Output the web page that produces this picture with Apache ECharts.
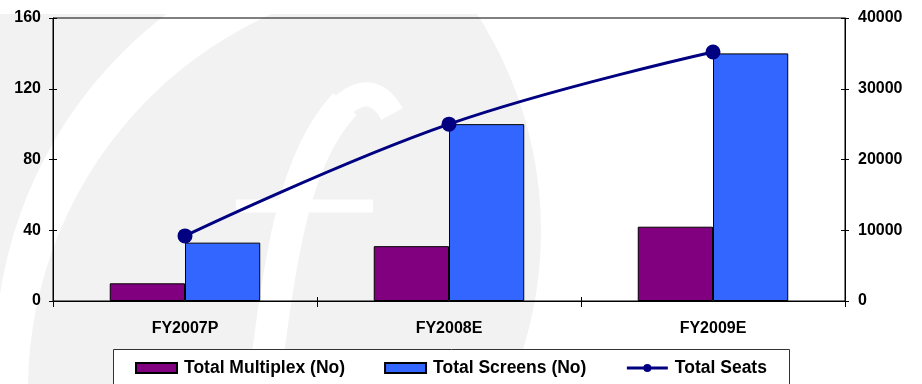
<!DOCTYPE html>
<html>
<head>
<meta charset="utf-8">
<script src="https://cdn.jsdelivr.net/npm/echarts@6/dist/echarts.min.js"></script>
<style>
  html, body { margin: 0; padding: 0; background: #ffffff; }
  #chart { width: 922px; height: 384px; }
</style>
</head>
<body>
<div id="chart"></div>
<script>
// Cinema capacity outlook by fiscal year
const categories = ['FY2007P', 'FY2008E', 'FY2009E'];
const multiplexCount = [10, 31, 42];      // Total Multiplex (No)
const screenCount = [33, 100, 140];       // Total Screens (No)
const seatCount = [9200, 25000, 35200];   // Total Seats
const leftAxisRange = { min: 0, max: 160, step: 40 };
const rightAxisRange = { min: 0, max: 40000, step: 10000 };

const FONT = '"Liberation Sans", Arial, sans-serif';
const labelStyle = { fontSize: 16, fontWeight: 'bold', color: '#000', fontFamily: FONT };

// faint circular logo in the background
const WM = '#f2f2f2';
const watermark = [
  { type: 'circle', z: -5, z2: 1, shape: { cx: 141, cy: 231, r: 400 }, style: { fill: WM } },
  { type: 'circle', z: -5, z2: 2, shape: { cx: 430, cy: 360, r: 435 }, style: { fill: '#fff' } },
  { type: 'circle', z: -5, z2: 3, shape: { cx: 440, cy: 390, r: 412 }, style: { fill: WM } },
  { type: 'ring', z: -5, z2: 4, shape: { cx: 141, cy: 231, r0: 400, r: 1400 }, style: { fill: '#fff' } },
  { type: 'bezierCurve', z: -5, z2: 5,
    shape: { x1: 262, y1: 400, cpx1: 280, cpy1: 260, cpx2: 292, cpy2: 160, x2: 345, y2: 104 },
    style: { fill: null, stroke: '#fff', lineWidth: 32 } },
  { type: 'bezierCurve', z: -5, z2: 5,
    shape: { x1: 340, y1: 108, cpx1: 372, cpy1: 78, x2: 392, y2: 114 },
    style: { fill: null, stroke: '#fff', lineWidth: 24 } },
  { type: 'line', z: -5, z2: 5,
    shape: { x1: 236, y1: 206, x2: 373, y2: 206 },
    style: { stroke: '#fff', lineWidth: 13 } },
  { type: 'rect', z: -5, z2: 6, shape: { x: 0, y: 0, width: 922, height: 14 }, style: { fill: '#fff' } },
  // legend frame
  { type: 'rect', z: 5, shape: { x: 113.5, y: 349.5, width: 676, height: 60 },
    style: { fill: '#fff', stroke: '#333', lineWidth: 1 } }
];

const valueAxis = (range, pos, main) => ({
  type: 'value', position: pos,
  min: range.min, max: range.max, interval: range.step,
  axisLine: { show: main, lineStyle: { color: '#000', width: 1 } },
  axisTick: { show: true, inside: !main, length: 4, lineStyle: { color: '#000', width: 1 } },
  axisLabel: main
    ? Object.assign({ margin: pos === 'left' ? 12 : 13, formatter: v => String(v) }, labelStyle)
    : { show: false },
  splitLine: { show: false }
});

const chart = echarts.init(document.getElementById('chart'), null, { renderer: 'canvas' });
chart.setOption({
  animation: false,
  backgroundColor: '#fff',
  graphic: { elements: watermark },
  grid: {
    left: 53, right: 77, top: 18, bottom: 83,
    show: true, borderColor: '#000', borderWidth: 1, backgroundColor: 'transparent'
  },
  legend: {
    left: 135, top: 358, padding: 0, z: 6,
    itemWidth: 41, itemHeight: 10, itemGap: 39,
    textStyle: { fontSize: 17.5, fontWeight: 'bold', color: '#000', fontFamily: FONT, lineHeight: 20, padding: [0, 0, 0, 2] },
    data: [
      { name: 'Total Multiplex (No)', icon: 'rect' },
      { name: 'Total Screens (No)', icon: 'rect' },
      { name: 'Total Seats', lineStyle: { width: 3, color: '#000080' } }
    ]
  },
  xAxis: [
    {
      type: 'category', data: categories, position: 'bottom', boundaryGap: true,
      axisLine: { show: true, lineStyle: { color: '#000', width: 1 } },
      axisTick: { show: true, length: 6, lineStyle: { color: '#000' } },
      axisLabel: Object.assign({ margin: 20 }, labelStyle),
      splitLine: { show: false }
    },
    {
      type: 'category', data: categories, position: 'bottom', boundaryGap: true,
      axisLine: { show: false },
      axisTick: { show: true, inside: true, length: 4, lineStyle: { color: '#000' } },
      axisLabel: { show: false },
      splitLine: { show: false }
    }
  ],
  yAxis: [
    valueAxis(leftAxisRange, 'left', true),
    valueAxis(rightAxisRange, 'right', true),
    valueAxis(leftAxisRange, 'left', false),
    valueAxis(rightAxisRange, 'right', false)
  ],
  series: [
    {
      name: 'Total Multiplex (No)', type: 'bar', xAxisIndex: 0, yAxisIndex: 0,
      data: multiplexCount, barGap: '0%', barCategoryGap: '43%',
      itemStyle: { color: '#800080', borderColor: '#000', borderWidth: 1 }
    },
    {
      name: 'Total Screens (No)', type: 'bar', xAxisIndex: 0, yAxisIndex: 0,
      data: screenCount, barGap: '0%', barCategoryGap: '43%',
      itemStyle: { color: '#3366ff', borderColor: '#000', borderWidth: 1 }
    },
    {
      name: 'Total Seats', type: 'line', xAxisIndex: 0, yAxisIndex: 1,
      data: seatCount, smooth: 0.4, symbol: 'circle', symbolSize: 15,
      lineStyle: { color: '#000080', width: 3 },
      itemStyle: { color: '#000080' }, z: 4
    }
  ]
});
</script>
</body>
</html>
